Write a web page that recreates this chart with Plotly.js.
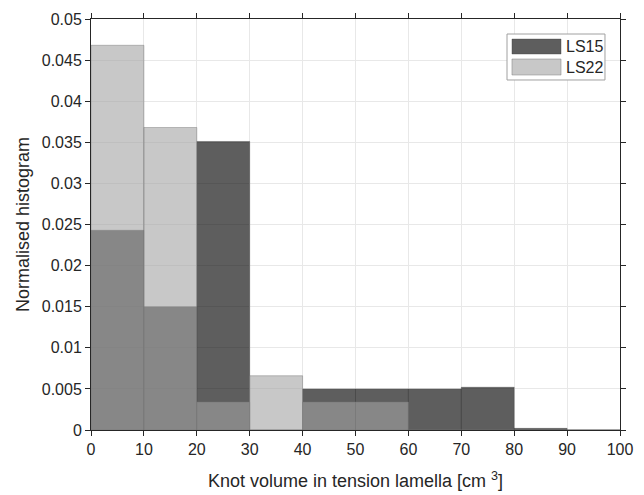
<!DOCTYPE html>
<html>
<head>
<meta charset="utf-8">
<script src="https://cdn.plot.ly/plotly-3.0.1.min.js"></script>
<style>
  html, body { margin: 0; padding: 0; background: #fff; }
  #chart { width: 644px; height: 495px; }
</style>
</head>
<body>
<div id="chart"></div>
<script>
// Histogram bins of knot volume (cm^3), 10 cm^3 wide
const binStarts = [0, 10, 20, 30, 40, 50, 60, 70, 80, 90];
const binWidth = 10;

// Normalised histogram values per bin
const ls15 = [0.0243, 0.0150, 0.0351, 0.0, 0.0050, 0.0050, 0.0050, 0.0052, 0.0002, 0.0];
const ls22 = [0.0468, 0.0368, 0.0034, 0.0066, 0.0034, 0.0034, 0.0, 0.0, 0.0, 0.0];

const seriesNames = ['LS15', 'LS22'];
const xTicks = [0, 10, 20, 30, 40, 50, 60, 70, 80, 90, 100];
const yTicks = [0, 0.005, 0.01, 0.015, 0.02, 0.025, 0.03, 0.035, 0.04, 0.045, 0.05];

const fills = ['rgba(0,0,0,0.63)', 'rgba(164,164,164,0.6)'];
const edges = ['rgba(60,60,60,0.35)', 'rgba(120,120,120,0.45)'];

const centers = binStarts.map(b => b + binWidth / 2);

const traces = [ls15, ls22].map((vals, i) => ({
  type: 'bar', name: seriesNames[i], x: centers, y: vals, width: binWidth,
  marker: { color: fills[i], line: { color: edges[i], width: 1 } },
  hoverinfo: 'x+y', showlegend: false
}));

const ink = '#262626';
const fontFamily = '"Liberation Sans", Arial, sans-serif';

const axisCommon = {
  showline: true, linecolor: ink, linewidth: 1,
  mirror: 'ticks', ticks: 'outside', ticklen: 5, tickwidth: 1, tickcolor: ink,
  showgrid: true, gridcolor: '#e8e8e8', gridwidth: 1, zeroline: false,
  tickfont: { family: fontFamily, size: 16, color: ink }
};

// Legend box with wide patch swatches, placed in the upper right of the axes
const legendBox = { x0: 0.7864, x1: 0.9716, y0: 0.8516, y1: 0.9635 };
const swatchX = [0.7958, 0.8885];
const swatchY = [[0.9148, 0.9513], [0.8637, 0.9027]];
const labelX = 0.894;

const shapes = [
  { type: 'rect', xref: 'paper', yref: 'paper', x0: legendBox.x0, x1: legendBox.x1, y0: legendBox.y0, y1: legendBox.y1,
    fillcolor: '#fff', line: { color: '#a0a0a0', width: 1 }, layer: 'above' }
];
const annotations = [];
seriesNames.forEach((name, i) => {
  shapes.push({ type: 'rect', xref: 'paper', yref: 'paper',
    x0: swatchX[0], x1: swatchX[1], y0: swatchY[i][0], y1: swatchY[i][1],
    fillcolor: fills[i], line: { color: edges[i], width: 1 }, layer: 'above' });
  annotations.push({ xref: 'paper', yref: 'paper', x: labelX, y: (swatchY[i][0] + swatchY[i][1]) / 2,
    xanchor: 'left', yanchor: 'middle', showarrow: false, text: name,
    font: { family: fontFamily, size: 16, color: ink } });
});

const layout = {
  width: 644, height: 495,
  margin: { l: 91, r: 24, t: 19, b: 65 },
  paper_bgcolor: '#fff', plot_bgcolor: '#fff',
  barmode: 'overlay', bargap: 0,
  font: { family: fontFamily, size: 16, color: ink },
  xaxis: Object.assign({}, axisCommon, {
    range: [0, 100], tickvals: xTicks, ticktext: xTicks.map(String),
    title: { text: 'Knot volume in tension lamella [cm <sup>3</sup>]', font: { size: 18, color: ink }, standoff: 17 }
  }),
  yaxis: Object.assign({}, axisCommon, {
    range: [0, 0.05], tickvals: yTicks, ticktext: yTicks.map(v => String(+v.toFixed(3))),
    title: { text: 'Normalised histogram', font: { size: 18, color: ink }, standoff: 7 }
  }),
  shapes: shapes,
  annotations: annotations,
  showlegend: false
};

Plotly.newPlot('chart', traces, layout, { displayModeBar: false, staticPlot: true });
</script>
</body>
</html>
